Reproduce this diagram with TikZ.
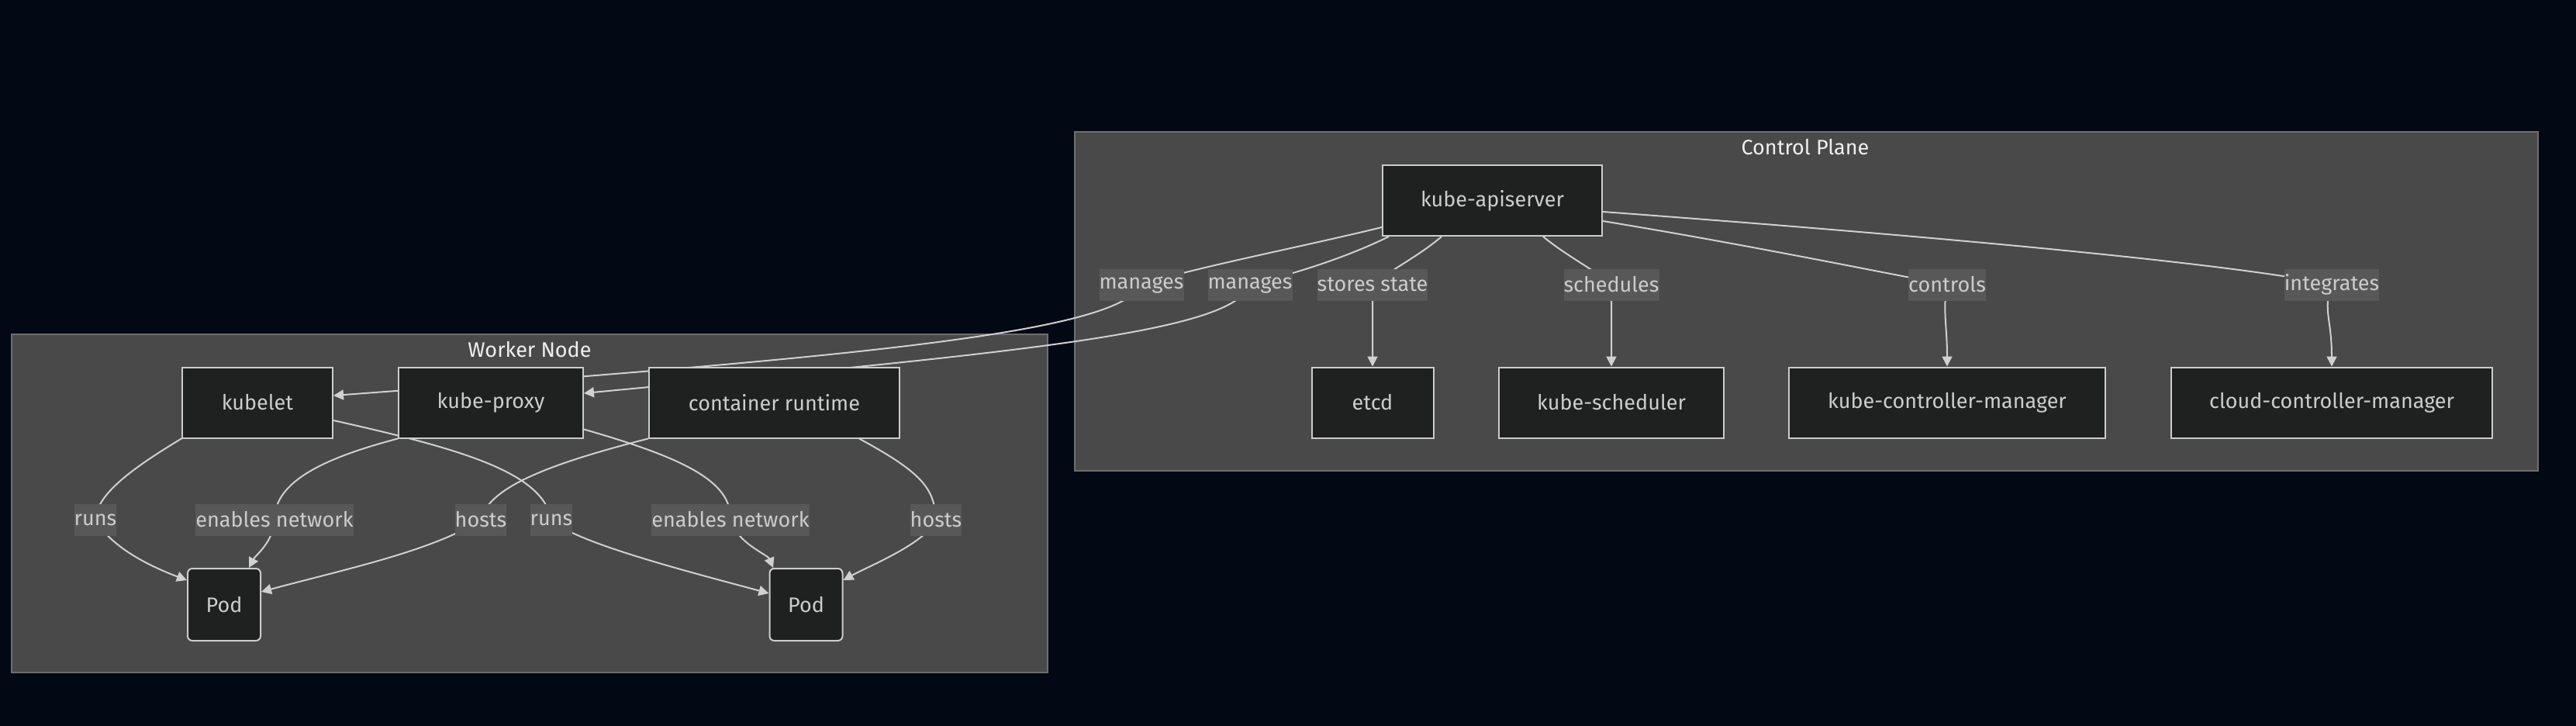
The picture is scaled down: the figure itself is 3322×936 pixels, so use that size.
\documentclass[tikz,border=0pt]{standalone}
\usepackage{fontspec}
\setmainfont{Fira Sans}
\usetikzlibrary{arrows.meta}
\definecolor{bgc}{HTML}{020814}
\definecolor{clfill}{HTML}{484948}
\definecolor{clline}{HTML}{6E6E6E}
\definecolor{nfill}{HTML}{1F2020}
\definecolor{nline}{HTML}{CCCCCC}
\definecolor{txt}{HTML}{CCCCCC}
\definecolor{ttl}{HTML}{F0F0F0}
\definecolor{lblfill}{HTML}{585858}
\definecolor{edgec}{HTML}{D0D0D0}
\pgfdeclarelayer{back}
\pgfdeclarelayer{edges}
\pgfsetlayers{back,edges,main}
\begin{document}
\begin{tikzpicture}[x=0.5pt,y=-0.5pt,
  tfont/.style={font=\fontsize{13.5}{16}\selectfont},
  box/.style={tfont,draw=nline,fill=nfill,line width=1pt,text=txt,minimum height=45.5pt,inner sep=0pt},
  pod/.style={box,rounded corners=3pt,minimum width=47pt,minimum height=46.5pt},
  lbl/.style={tfont,fill=lblfill,text=txt,inner xsep=0pt,inner ysep=0pt,minimum height=20.5pt},
  cluster/.style={draw=clline,fill=clfill,line width=0.6pt},
  ctitle/.style={tfont,text=ttl,inner sep=0pt},
  edge/.style={draw=edgec,line width=1pt},
  arr/.style={edge,-{Triangle[length=6.5pt,width=6.5pt]}}]
\useasboundingbox (0,0) rectangle (3322,936);
\begin{pgfonlayer}{back}
\fill[bgc] (0,0) rectangle (3322,936);
\draw[cluster] (1386,170) rectangle (3273,607);
\draw[cluster] (15,431) rectangle (1351,867);
\end{pgfonlayer}
\node[ctitle] (cpt) at (2328,190) {Control Plane};
\node[ctitle] (wnt) at (683,451) {Worker Node};
% control plane nodes
\node[box,minimum width=141.5pt] (api) at (1924.5,258.5) {kube-apiserver};
\node[box,minimum width=78.5pt] (etcd) at (1770,519) {etcd};
\node[box,minimum width=145pt] (sched) at (2078,519) {kube-scheduler};
\node[box,minimum width=204pt] (kcm) at (2511,519) {kube-controller-manager};
\node[box,minimum width=207pt] (ccm) at (3007,519) {cloud-controller-manager};
% worker nodes
\node[box,minimum width=97pt] (kubelet) at (332,519) {kubelet};
\node[box,minimum width=119pt] (kproxy) at (633,519) {kube-proxy};
\node[box,minimum width=161.5pt] (cr) at (998.5,519) {container runtime};
\node[pod] (pod1) at (289,779.5) {Pod};
\node[pod] (pod2) at (1039.5,779.5) {Pod};
% labels
\node[lbl] (m1) at (1472,367) {manages};
\node[lbl] (m2) at (1612,367) {manages};
\node[lbl] (ss) at (1770,367) {stores state};
\node[lbl] (sc) at (2078,367) {schedules};
\node[lbl] (ct) at (2511,367) {controls};
\node[lbl] (ig) at (3007,367) {integrates};
\node[lbl] (r1) at (123,670) {runs};
\node[lbl] (e1) at (354,670) {enables network};
\node[lbl] (h1) at (620,670) {hosts};
\node[lbl] (r2) at (711,670) {runs};
\node[lbl] (e2) at (942,670) {enables network};
\node[lbl] (h2) at (1207,670) {hosts};
\begin{pgfonlayer}{edges}
\draw[arr] ([yshift=-17.25pt]api.west) .. controls (1680,318) and (1540,345) .. (m1.center)
  .. controls (1440,430) and (1100,460) .. ([yshift=4.5pt]kubelet.east);
\draw[arr] ([xshift=4.5pt]api.south west) .. controls (1740,330) and (1680,350) .. (m2.center)
  .. controls (1590,430) and (1300,455) .. ([yshift=6pt]kproxy.east);
\draw[arr] ([xshift=-32.75pt]api.south) .. controls (1830,330) and (1790,350) .. (ss.center)
  .. controls (1770,400) and (1770,420) .. (etcd.north);
\draw[arr] ([xshift=32.75pt]api.south) .. controls (2020,330) and (2060,350) .. (sc.center)
  .. controls (2078,400) and (2078,420) .. (sched.north);
\draw[arr] ([yshift=-13.25pt]api.east) .. controls (2250,315) and (2420,350) .. (ct.center)
  .. controls (2505,400) and (2511,420) .. (kcm.north);
\draw[arr] ([yshift=-7.25pt]api.east) .. controls (2500,305) and (2880,340) .. (ig.center)
  .. controls (2995,400) and (3007,410) .. (ccm.north);
% worker edges
\draw[arr] (kubelet.south west) .. controls (160,610) and (125,640) .. (r1.center)
  .. controls (140,700) and (180,725) .. ([yshift=15.75pt]pod1.west);
\draw[arr] (kproxy.south west) .. controls (420,590) and (354,620) .. (e1.center)
  .. controls (352,700) and (330,715) .. ([xshift=16pt]pod1.north);
\draw[arr] (cr.south west) .. controls (700,600) and (630,630) .. (h1.center)
  .. controls (560,710) and (440,735) .. ([yshift=8.25pt]pod1.east);
\draw[arr] ([yshift=-11.5pt]kubelet.east) .. controls (600,580) and (700,610) .. (r2.center)
  .. controls (740,700) and (900,740) .. ([yshift=7.25pt]pod2.west);
\draw[arr] ([yshift=6pt]kproxy.south east) .. controls (880,590) and (944,620) .. (e2.center)
  .. controls (950,700) and (990,715) .. ([xshift=-21.25pt]pod2.north);
\draw[arr] ([xshift=54.75pt]cr.south) .. controls (1190,610) and (1205,630) .. (h2.center)
  .. controls (1195,700) and (1120,730) .. ([yshift=15.75pt]pod2.east);
\end{pgfonlayer}
\end{tikzpicture}
\end{document}
